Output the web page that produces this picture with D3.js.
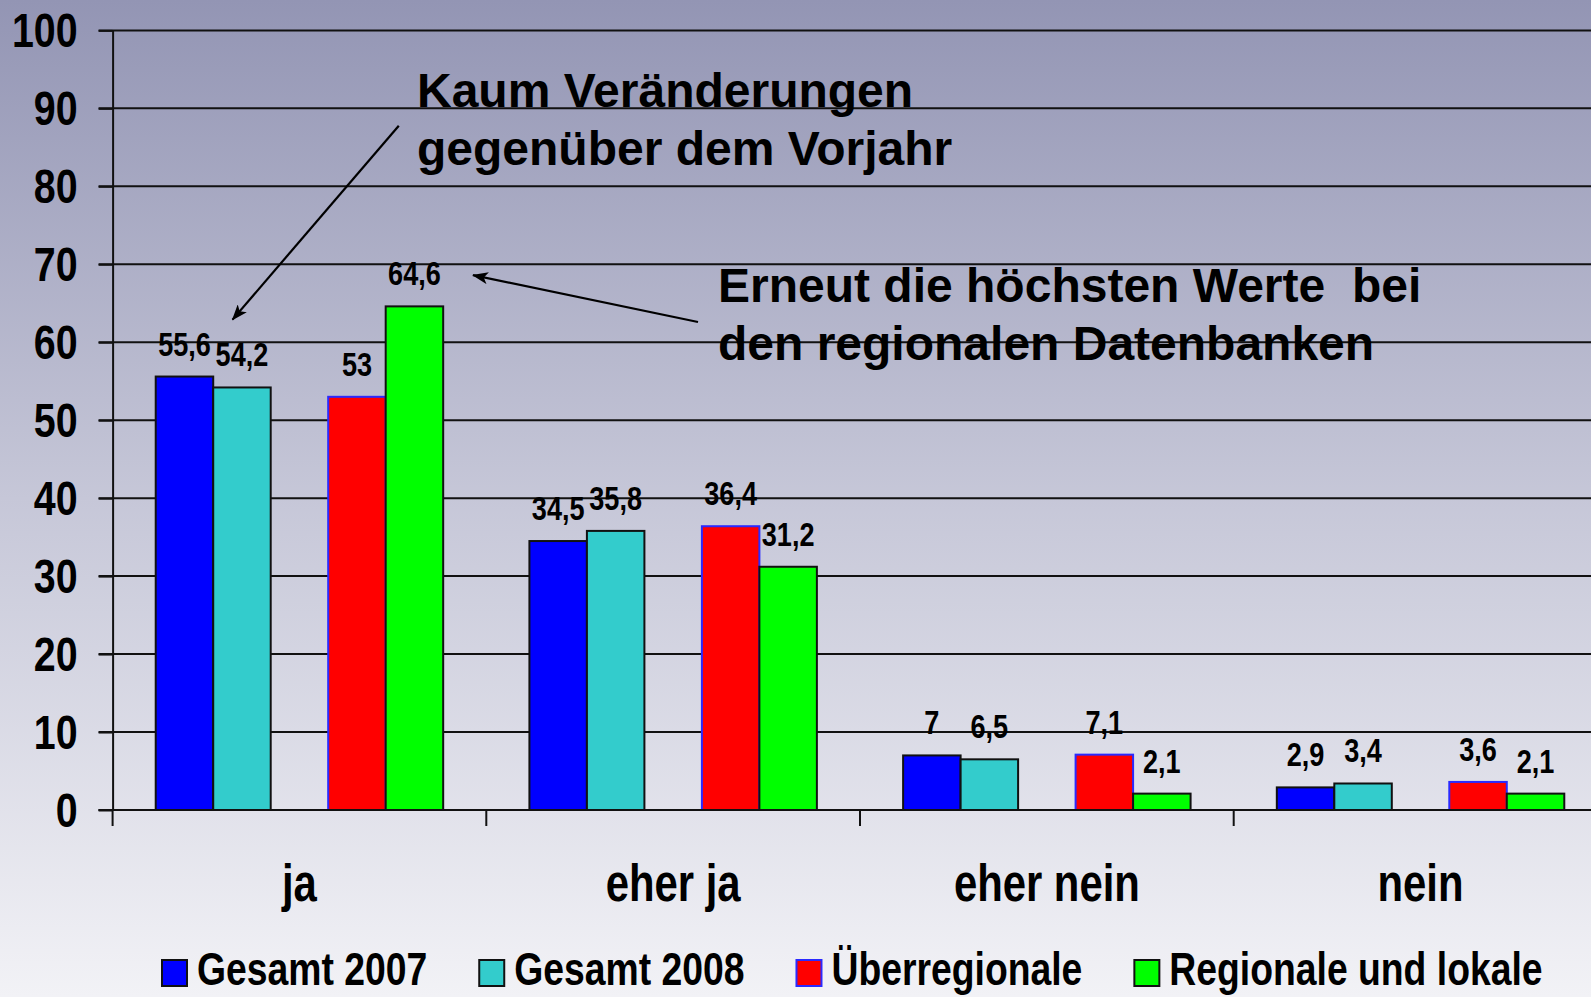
<!DOCTYPE html>
<html>
<head>
<meta charset="utf-8">
<script src="https://cdn.jsdelivr.net/npm/d3@7/dist/d3.min.js"></script>
<style>
  html, body { margin: 0; padding: 0; overflow: hidden; background: #fff; }
  svg { display: block; }
  .narrow { font-family: "Liberation Sans", Arial, sans-serif; font-weight: bold; }
  .wide { font-family: "Liberation Sans", Arial, sans-serif; font-weight: bold; }
</style>
</head>
<body>
<svg id="chart" width="1591" height="997"></svg>
<script>
// ---- data ----
const categories = ["ja", "eher ja", "eher nein", "nein"];
const seriesNames = ["Gesamt 2007", "Gesamt 2008", "Überregionale", "Regionale und lokale"];
const gesamt2007 = [55.6, 34.5, 7, 2.9];
const gesamt2008 = [54.2, 35.8, 6.5, 3.4];
const ueberregionale = [53, 36.4, 7.1, 3.6];
const regionaleLokale = [64.6, 31.2, 2.1, 2.1];
const yTicks = [0, 10, 20, 30, 40, 50, 60, 70, 80, 90, 100];
const note1 = ["Kaum Veränderungen", "gegenüber dem Vorjahr"];
const note2 = ["Erneut die höchsten Werte  bei", "den regionalen Datenbanken"];

// ---- styles ----
const seriesValues = [gesamt2007, gesamt2008, ueberregionale, regionaleLokale];
const fills = ["#0000FF", "#33CCCC", "#FF0000", "#00FF00"];
const strokes = ["#111", "#111", "#2a2aff", "#111"];
const NARROW = 0.82; // Arial Narrow width ratio

const W = 1591, H = 997;
const svg = d3.select("#chart");

function condense(sel) {
  sel.each(function () {
    const len = this.getComputedTextLength();
    d3.select(this).attr("textLength", len * NARROW).attr("lengthAdjust", "spacingAndGlyphs");
  });
}

// background gradient
const defs = svg.append("defs");
const grad = defs.append("linearGradient").attr("id", "bg")
  .attr("x1", 0).attr("y1", 0).attr("x2", 0).attr("y2", 1);
grad.append("stop").attr("offset", 0).attr("stop-color", "#9395B4");
grad.append("stop").attr("offset", 0.5).attr("stop-color", "#C6C7D8");
grad.append("stop").attr("offset", 1).attr("stop-color", "#F2F2F6");
svg.append("rect").attr("width", W).attr("height", H).attr("fill", "url(#bg)");

defs.append("marker").attr("id", "arrow")
  .attr("viewBox", "0 0 16 12").attr("refX", 15).attr("refY", 6)
  .attr("markerWidth", 16).attr("markerHeight", 12)
  .attr("markerUnits", "userSpaceOnUse").attr("orient", "auto")
  .append("path").attr("d", "M0,0 L16,6 L0,12 L4,6 Z").attr("fill", "#000");

// scales
const plotLeft = 112.6, catStep = 373.7;
const x = d3.scaleBand().domain(categories).range([plotLeft, plotLeft + catStep * categories.length]).padding(0);
const slots = [seriesNames[0], seriesNames[1], "_gap", seriesNames[2], seriesNames[3]];
const xi = d3.scaleBand().domain(slots).range([0, x.bandwidth()]).paddingInner(0).paddingOuter(0.75);
const y = d3.scaleLinear().domain([0, 100]).range([810, 30.4]);

// gridlines
svg.append("g").selectAll("line").data(yTicks).join("line")
  .attr("x1", plotLeft - 14).attr("x2", W)
  .attr("y1", d => y(d)).attr("y2", d => y(d))
  .attr("stroke", "#111").attr("stroke-width", 2);

// y axis
const yAxis = svg.append("g").attr("transform", `translate(${plotLeft},0)`)
  .call(d3.axisLeft(y).tickValues(yTicks).tickSize(14).tickSizeOuter(0).tickPadding(21));
yAxis.select(".domain").attr("stroke", "#111").attr("stroke-width", 2);
yAxis.selectAll(".tick line").attr("stroke", "#111").attr("stroke-width", 2);
yAxis.selectAll(".tick text").attr("class", "narrow").attr("font-size", 48).attr("fill", "#000").attr("dy", "0.34em")
  .call(condense);

// category boundary ticks
svg.append("g").selectAll("line").data(categories).join("line")
  .attr("x1", d => x(d)).attr("x2", d => x(d))
  .attr("y1", y(0)).attr("y2", y(0) + 16)
  .attr("stroke", "#111").attr("stroke-width", 2);

// category labels
svg.append("g").selectAll("text").data(categories).join("text")
  .attr("class", "narrow").attr("font-size", 51)
  .attr("x", d => x(d) + x.bandwidth() / 2).attr("y", 901)
  .attr("text-anchor", "middle").attr("fill", "#000").text(d => d)
  .call(condense);

// annotations text
function note(lines, xPos, baselines) {
  svg.append("g").selectAll("text").data(lines).join("text")
    .attr("class", "wide").attr("font-size", 48).attr("fill", "#000")
    .attr("x", xPos).attr("y", (d, i) => baselines[i])
    .style("white-space", "pre").text(d => d);
}
note(note1, 417, [106.5, 164.5]);
note(note2, 718, [302, 360]);

// bars
const fmt = v => String(v).replace(".", ",");
const barData = [];
categories.forEach((c, ci) => {
  seriesNames.forEach((s, si) => {
    barData.push({ cat: c, series: s, si, value: seriesValues[si][ci] });
  });
});
svg.append("g").selectAll("rect").data(barData).join("rect")
  .attr("x", d => x(d.cat) + xi(d.series))
  .attr("width", xi.bandwidth())
  .attr("y", d => y(d.value))
  .attr("height", d => y(0) - y(d.value))
  .attr("fill", d => fills[d.si])
  .attr("stroke", d => strokes[d.si]).attr("stroke-width", 2);

// x axis base line redraw on top
svg.append("line").attr("x1", plotLeft - 14).attr("x2", W).attr("y1", y(0)).attr("y2", y(0))
  .attr("stroke", "#111").attr("stroke-width", 2);

// value labels
svg.append("g").selectAll("text").data(barData).join("text")
  .attr("class", "narrow").attr("font-size", 33).attr("fill", "#000")
  .attr("text-anchor", "middle")
  .attr("x", d => x(d.cat) + xi(d.series) + xi.bandwidth() / 2)
  .attr("y", d => y(d.value) - 21)
  .text(d => fmt(d.value))
  .call(condense);

// arrows (y given in value space of the scale)
const arrows = [
  { x1: 398.8, v1: 87.76, x2: 232.5, v2: 62.9 },
  { x1: 698, v1: 62.6, x2: 473, v2: 68.6 }
];
svg.append("g").selectAll("line").data(arrows).join("line")
  .attr("x1", d => d.x1).attr("y1", d => y(d.v1))
  .attr("x2", d => d.x2).attr("y2", d => y(d.v2))
  .attr("stroke", "#000").attr("stroke-width", 2.2)
  .attr("marker-end", "url(#arrow)");

// legend
const legend = svg.append("g");
let lx = 162;
seriesNames.forEach((s, i) => {
  legend.append("rect").attr("x", lx).attr("y", 960).attr("width", 25).attr("height", 26)
    .attr("fill", fills[i]).attr("stroke", strokes[i]).attr("stroke-width", 2);
  const t = legend.append("text").attr("class", "narrow").attr("font-size", 45.5)
    .attr("x", lx + 35).attr("y", 985).attr("fill", "#000").text(s);
  const len = t.node().getComputedTextLength() * NARROW;
  t.attr("textLength", len).attr("lengthAdjust", "spacingAndGlyphs");
  lx = lx + 35 + len + 52;
});
</script>
</body>
</html>
